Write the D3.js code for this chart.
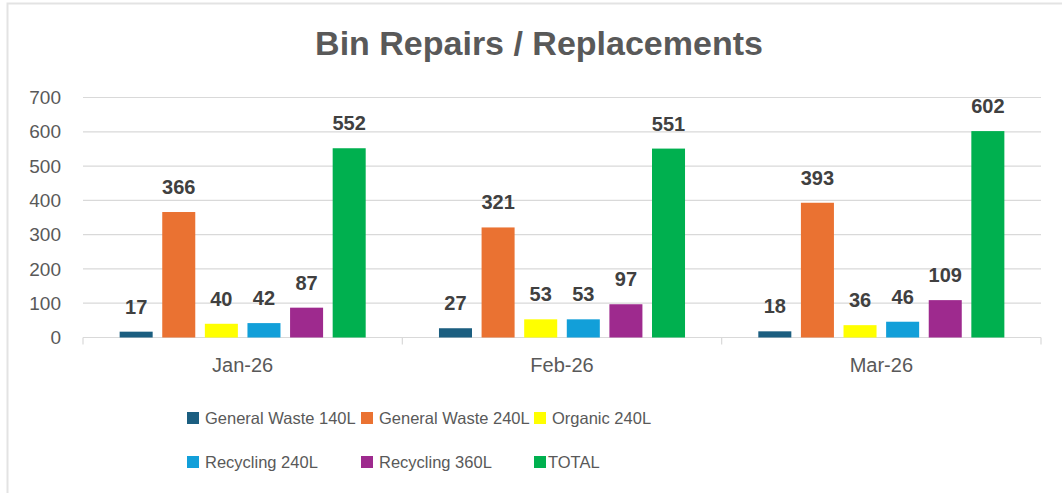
<!DOCTYPE html>
<html>
<head>
<meta charset="utf-8">
<script src="https://cdn.jsdelivr.net/npm/d3@7"></script>
<style>
  body { margin: 0; background: #fff; }
  svg { display: block; font-family: "Liberation Sans", Arial, sans-serif; }
</style>
</head>
<body>
<svg></svg>
<script>
var width = 1062;
var height = 493;

// data
var months = ["Jan-26", "Feb-26", "Mar-26"];
var series = ["General Waste 140L", "General Waste 240L", "Organic 240L",
              "Recycling 240L", "Recycling 360L", "TOTAL"];
var colors = ["#1b5e80", "#ea7232", "#ffff00", "#129fd9", "#9e2a8e", "#00b04f"];
var values = [
  [17, 366, 40, 42, 87, 552],
  [27, 321, 53, 53, 97, 551],
  [18, 393, 36, 46, 109, 602]
];
var yTicks = [0, 100, 200, 300, 400, 500, 600, 700];

var plotLeft = 83, plotRight = 1041, plotTop = 97.5, plotBottom = 337.5;

var svg = d3.select("svg")
            .attr("width", width)
            .attr("height", height);

// outer chart frame (only top/left edges show in the picture)
svg.append("path")
   .attr("d", "M7.5," + height + " V3.5 H" + width)
   .attr("fill", "none")
   .attr("stroke", "#e3e3e3")
   .attr("stroke-width", 2);

var x0 = d3.scaleBand()
           .domain(months)
           .range([plotLeft, plotRight]);

var x1 = d3.scaleBand()
           .domain(series)
           .range([0, x0.bandwidth()])
           .paddingInner(0.225)
           .paddingOuter(0.86);

var yScale = d3.scaleLinear()
               .domain([0, 700])
               .range([plotBottom, plotTop]);

var color = d3.scaleOrdinal().domain(series).range(colors);

// gridlines
svg.append("g")
   .selectAll("line")
   .data(yTicks.slice(1))
   .enter()
   .append("line")
     .attr("x1", plotLeft)
     .attr("x2", plotRight)
     .attr("y1", d => yScale(d))
     .attr("y2", d => yScale(d))
     .attr("stroke", "#d9d9d9")
     .attr("stroke-width", 1.2);

// y axis labels
var yAxis = d3.axisLeft(yScale).tickValues(yTicks).tickSize(0).tickPadding(0);
var yg = svg.append("g")
   .attr("transform", "translate(61,0)")
   .call(yAxis);
yg.select(".domain").remove();
yg.selectAll("text")
  .attr("font-size", "19px")
  .attr("fill", "#595959")
  .attr("font-family", "Liberation Sans, Arial, sans-serif");

// x axis with category divider ticks
svg.append("line")
   .attr("x1", plotLeft).attr("x2", plotRight)
   .attr("y1", plotBottom).attr("y2", plotBottom)
   .attr("stroke", "#d9d9d9")
   .attr("stroke-width", 1.2);

svg.append("g")
   .selectAll("line")
   .data(months.map(m => x0(m)).concat([plotRight]))
   .enter()
   .append("line")
     .attr("x1", d => d).attr("x2", d => d)
     .attr("y1", plotBottom).attr("y2", plotBottom + 7)
     .attr("stroke", "#d9d9d9")
     .attr("stroke-width", 1.2);

var xAxis = d3.axisBottom(x0).tickSize(0).tickPadding(20);
var xg = svg.append("g")
   .attr("transform", "translate(0," + plotBottom + ")")
   .call(xAxis);
xg.select(".domain").remove();
xg.selectAll("text")
  .attr("font-size", "20px")
  .attr("fill", "#595959")
  .attr("font-family", "Liberation Sans, Arial, sans-serif");

// bars
var groups = svg.selectAll(".month")
   .data(months)
   .enter()
   .append("g")
     .attr("class", "month")
     .attr("transform", d => "translate(" + x0(d) + ",0)");

var cells = groups.selectAll(".cell")
   .data((m, i) => series.map((s, j) => ({ key: s, value: values[i][j] })))
   .enter();

cells.append("rect")
     .attr("x", d => x1(d.key))
     .attr("y", d => yScale(d.value))
     .attr("width", x1.bandwidth())
     .attr("height", d => plotBottom - yScale(d.value))
     .attr("fill", d => color(d.key));

cells.append("text")
     .attr("x", d => x1(d.key) + x1.bandwidth() / 2)
     .attr("y", d => yScale(d.value) - 18)
     .attr("text-anchor", "middle")
     .attr("font-size", "20px")
     .attr("font-weight", "bold")
     .attr("fill", "#404040")
     .text(d => d.value);

// title
svg.append("text")
   .attr("x", 539)
   .attr("y", 55)
   .attr("text-anchor", "middle")
   .attr("font-size", "34px")
   .attr("font-weight", "bold")
   .attr("fill", "#595959")
   .text("Bin Repairs / Replacements");

// legend, three columns by two rows
var legendCols = [187, 361, 534];
var legendRows = [418, 462];

var legend = svg.selectAll(".legend")
   .data(series)
   .enter()
   .append("g")
     .attr("class", "legend")
     .attr("transform", (d, i) => "translate(" + legendCols[i % 3] + "," + legendRows[Math.floor(i / 3)] + ")");

legend.append("rect")
      .attr("x", 0)
      .attr("y", -6)
      .attr("width", 12)
      .attr("height", 12)
      .attr("fill", d => color(d));

legend.append("text")
      .attr("x", (d, i) => i === 5 ? 14 : 18)
      .attr("y", 0)
      .attr("dy", "0.35em")
      .attr("font-size", "16.5px")
      .attr("fill", "#595959")
      .text(d => d);
</script>
</body>
</html>
